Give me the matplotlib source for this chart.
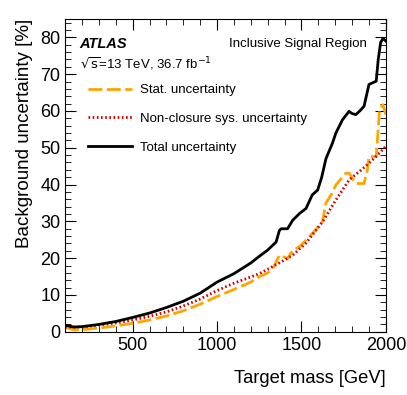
import matplotlib.pyplot as plt
from matplotlib.ticker import MultipleLocator

plt.rcParams['font.family'] = ['Liberation Sans', 'DejaVu Sans']

# total uncertainty
mass_tot = [100, 150, 200, 300, 400, 500, 600, 700, 800, 900, 1000, 1100, 1200, 1250,
            1300, 1350, 1369, 1380, 1418, 1448, 1490, 1527, 1564, 1596, 1620, 1645,
            1684, 1704, 1743, 1782, 1800, 1822, 1850, 1871, 1900, 1943, 1955, 1969,
            1983, 2000]
tot = [1.8, 1.3, 1.4, 2.0, 2.8, 3.9, 5.1, 6.6, 8.3, 10.5, 13.5, 15.8, 18.7, 20.5,
       22.2, 24.4, 27.5, 28.0, 28.0, 30.3, 32.2, 33.5, 37.2, 38.5, 42.0, 47.0,
       51.3, 54.0, 57.6, 59.9, 59.3, 59.0, 60.2, 61.3, 67.2, 68.1, 74.0, 78.6,
       79.7, 79.0]

# stat. uncertainty
mass_stat = [100, 150, 200, 300, 400, 500, 600, 700, 800, 900, 1000, 1100, 1200, 1251,
             1300, 1330, 1369, 1418, 1448, 1490, 1527, 1580, 1625, 1645, 1680, 1704,
             1763, 1783, 1800, 1822, 1871, 1891, 1900, 1943, 1963, 1983, 2000]
stat = [1.2, 0.6, 0.6, 1.0, 1.6, 2.3, 3.2, 4.3, 5.7, 7.5, 9.6, 11.5, 13.5, 15.0,
        16.0, 17.1, 20.8, 19.9, 22.1, 23.2, 24.9, 27.5, 29.9, 35.0, 37.5, 39.9,
        43.1, 43.1, 41.8, 40.3, 40.3, 44.0, 47.6, 47.6, 60.4, 61.7, 59.0]

# non-closure sys. uncertainty
mass_nc = [100, 200, 300, 400, 500, 600, 700, 800, 900, 1000, 1100, 1200, 1251, 1300,
           1400, 1448, 1527, 1625, 1704, 1783, 1850, 1900, 1950, 2000]
nonclosure = [1.3, 1.3, 1.8, 2.4, 3.2, 4.2, 5.4, 7.0, 8.9, 11.2, 13.2, 14.9, 15.8, 17.0,
              19.5, 20.8, 24.1, 29.9, 35.8, 41.3, 43.8, 45.8, 48.0, 50.4]

fig = plt.figure(figsize=(4.07, 3.95), dpi=100)
ax = fig.add_axes([0.16, 0.16, 0.788, 0.792])

ax.plot(mass_stat, stat, color='#ffa500', lw=2, ls=(0, (5, 1.6)), label='Stat. uncertainty')
ax.plot(mass_nc, nonclosure, color='#d40000', lw=2, ls=(0, (0.6, 0.9)),
        label='Non-closure sys. uncertainty')
ax.plot(mass_tot, tot, color='black', lw=2, label='Total uncertainty')

ax.set_xlim(100, 2000)
ax.set_ylim(0, 85)
ax.xaxis.set_major_locator(MultipleLocator(500))
ax.xaxis.set_minor_locator(MultipleLocator(100))
ax.yaxis.set_major_locator(MultipleLocator(10))
ax.yaxis.set_minor_locator(MultipleLocator(2))
ax.tick_params(which='both', direction='in', top=True, right=True, labelsize=13)
ax.tick_params(which='major', length=8)
ax.tick_params(which='minor', length=4)

ax.set_xlabel('Target mass [GeV]', fontsize=13.2, loc='right', labelpad=12)
ax.set_ylabel('Background uncertainty [%]', fontsize=13.5, loc='top', labelpad=5)

ax.text(0.045, 0.92, 'ATLAS', transform=ax.transAxes, fontsize=10.5,
        fontweight='bold', fontstyle='italic', va='center')
ax.text(0.045, 0.855, r'$\sqrt{\mathrm{s}}$=13 TeV, 36.7 fb$^{-1}$', transform=ax.transAxes,
        fontsize=9.5, va='center')
ax.text(0.94, 0.92, 'Inclusive Signal Region', transform=ax.transAxes, fontsize=9.5,
        ha='right', va='center')

ax.legend(loc='upper left', bbox_to_anchor=(0.035, 0.83), frameon=False, fontsize=9.5,
          handlelength=3.3, labelspacing=1.25, handletextpad=0.6)

fig.savefig('out.png', dpi=100)
